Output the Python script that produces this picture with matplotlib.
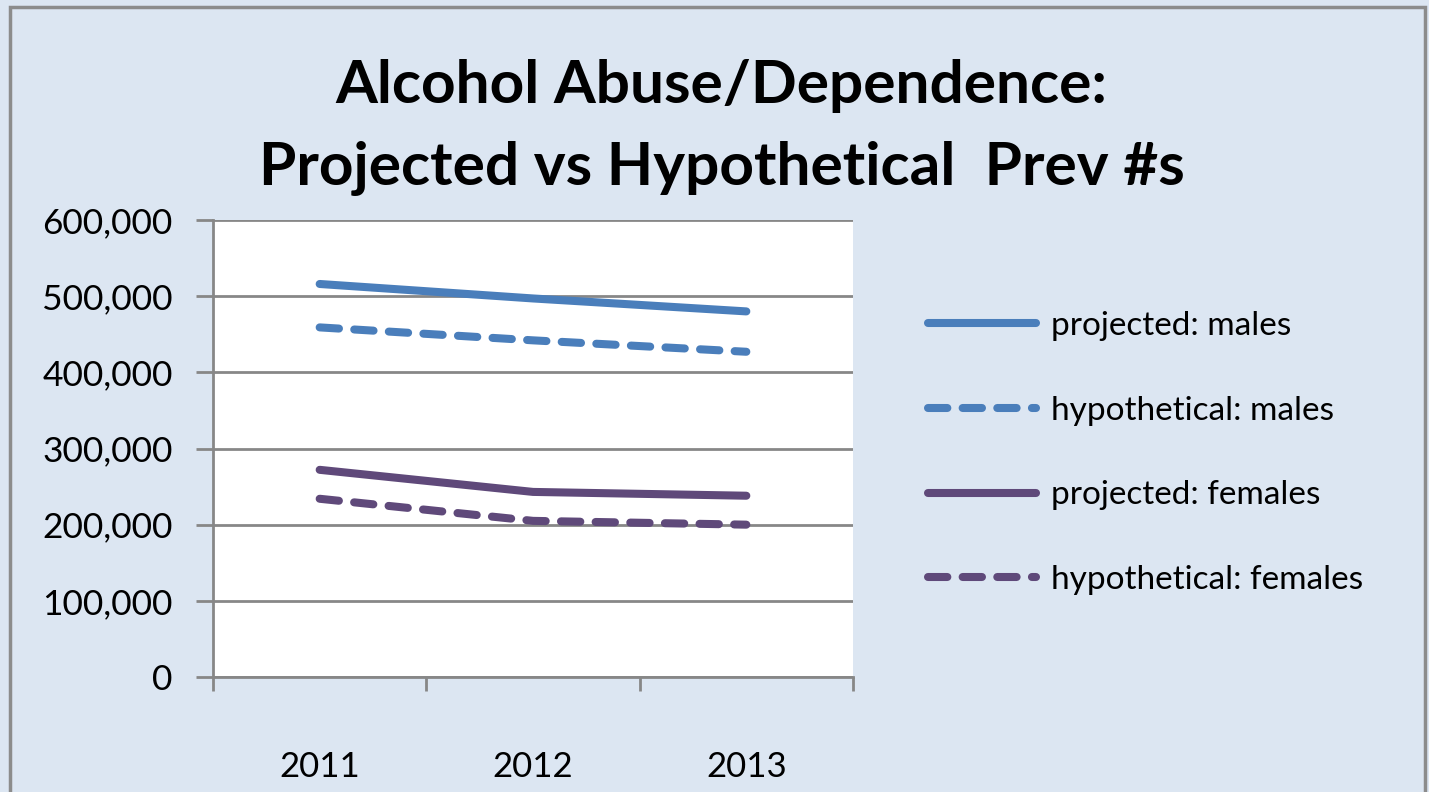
import matplotlib
matplotlib.use('Agg')
import matplotlib.pyplot as plt
from matplotlib.patches import Rectangle

plt.rcParams['font.family'] = ['Lato', 'DejaVu Sans']

years = ['2011', '2012', '2013']
proj_males = [516000, 497000, 480000]
hyp_males = [459000, 442000, 427000]
proj_females = [272000, 243000, 238000]
hyp_females = [234000, 205000, 200000]
y_ticks = [0, 100000, 200000, 300000, 400000, 500000, 600000]

blue = '#4a7ebb'
purple = '#5f497a'
bg = '#dce6f2'
grid_c = '#878787'

fig = plt.figure(figsize=(14.29, 7.92), dpi=100, facecolor=bg)
fig.patches.append(Rectangle((10 / 1429, -0.05), 1415 / 1429, 1.05 - 7 / 792,
                             transform=fig.transFigure, fill=False,
                             edgecolor='#8c8c8c', linewidth=2.5))

ax = fig.add_axes([213 / 1429, 1 - 677 / 792, 640 / 1429, 457 / 792])
ax.set_facecolor('white')

x = range(len(years))
dash = (0, (2.4, 1.9))
ax.plot(x, proj_males, color=blue, lw=5.8, solid_capstyle='round', label='projected: males')
ax.plot(x, hyp_males, color=blue, lw=5.8, ls=dash, dash_capstyle='round', label='hypothetical: males')
ax.plot(x, proj_females, color=purple, lw=5.8, solid_capstyle='round', label='projected: females')
ax.plot(x, hyp_females, color=purple, lw=5.8, ls=dash, dash_capstyle='round', label='hypothetical: females')

ax.set_xlim(-0.5, 2.5)
ax.set_ylim(0, 600000)
ax.set_yticks(y_ticks)
ax.set_yticklabels(['{:,}'.format(v) for v in y_ticks])
ax.yaxis.grid(True, color=grid_c, lw=2)
ax.set_axisbelow(True)

ax.set_xticks(list(x))
ax.set_xticklabels(years)
ax.set_xticks([-0.5, 0.5, 1.5, 2.5], minor=True)
ax.tick_params(axis='x', which='major', length=0, pad=53, labelsize=25)
ax.tick_params(axis='x', which='minor', length=10, width=2, color=grid_c, direction='out')
ax.tick_params(axis='y', length=12, width=2, color=grid_c, pad=17, labelsize=25.5)

for s in ['top', 'right']:
    ax.spines[s].set_visible(False)
for s in ['left', 'bottom']:
    ax.spines[s].set_color(grid_c)
    ax.spines[s].set_linewidth(2)

fig.text(0.505, 1 - 103 / 792, 'Alcohol Abuse/Dependence:', ha='center', va='baseline',
         fontsize=43.5, fontweight='bold')
fig.text(0.505, 1 - 185 / 792, 'Projected vs Hypothetical  Prev #s', ha='center', va='baseline',
         fontsize=43.5, fontweight='bold')

leg = ax.legend(loc='center left', bbox_to_anchor=(898 / 1429, 1 - 453 / 792),
                bbox_transform=fig.transFigure, frameon=False, fontsize=24,
                handlelength=3.25, handletextpad=0.45, labelspacing=1.64)

fig.savefig('out.png', dpi=100, facecolor=bg)
